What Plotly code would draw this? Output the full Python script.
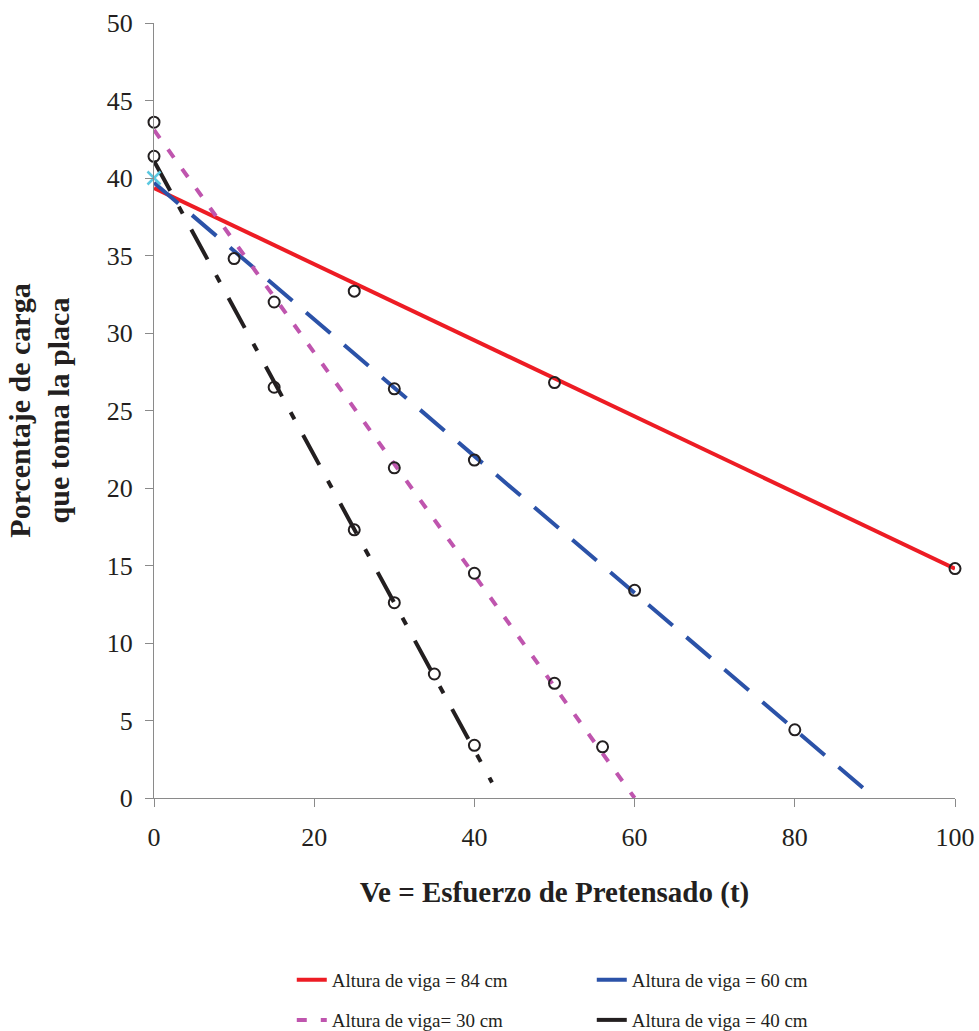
import plotly.graph_objects as go

# ---- data ----
# Measured points (open circles)
x_84 = [25, 50, 100]
y_84 = [32.7, 26.8, 14.8]

x_60 = [10, 30, 40, 60, 80]
y_60 = [34.8, 26.4, 21.8, 13.4, 4.4]

x_30 = [0, 15, 30, 40, 50, 56]
y_30 = [43.6, 32.0, 21.3, 14.5, 7.4, 3.3]

x_40 = [0, 15, 25, 30, 35, 40]
y_40 = [41.4, 26.5, 17.3, 12.6, 8.0, 3.4]

# Trend-line end points
tx_84 = [0, 100]
ty_84 = [39.35, 14.8]
tx_60 = [0, 90]
ty_60 = [39.7, 0]
tx_30 = [0, 60]
ty_30 = [43.1, 0]
tx_40 = [0, 42.2]
ty_40 = [41.1, 1.0]

# common origin point (cyan cross)
x_origin = [0]
y_origin = [40.0]

names = ["Altura de viga = 84 cm", "Altura de viga = 60 cm",
         "Altura de viga= 30 cm", "Altura de viga = 40 cm"]

x_ticks = [0, 20, 40, 60, 80, 100]
y_ticks = [0, 5, 10, 15, 20, 25, 30, 35, 40, 45, 50]

RED = "#ED1C24"
BLUE = "#2B52A8"
MAG = "#BF55AE"
BLK = "#231F20"
CYAN = "#5BC8E0"
FONT = "Liberation Serif"

fig = go.Figure()

fig.add_trace(go.Scatter(x=tx_84, y=ty_84, mode="lines", name=names[0],
                         line=dict(color=RED, width=4), legend="legend"))
fig.add_trace(go.Scatter(x=tx_60, y=ty_60, mode="lines", name=names[1],
                         line=dict(color=BLUE, width=4, dash="32px,18px"), legend="legend"))
fig.add_trace(go.Scatter(x=tx_30, y=ty_30, mode="lines", name=names[2],
                         line=dict(color=MAG, width=4, dash="10px,14px"), legend="legend2"))
fig.add_trace(go.Scatter(x=tx_40, y=ty_40, mode="lines", name=names[3],
                         line=dict(color=BLK, width=4, dash="34px,18px,8px,18px"), legend="legend2"))

for xs, ys in [(x_84, y_84), (x_60, y_60), (x_30, y_30), (x_40, y_40)]:
    fig.add_trace(go.Scatter(x=xs, y=ys, mode="markers", showlegend=False,
                             cliponaxis=False,
                             marker=dict(symbol="circle-open", size=11, color=BLK,
                                         line=dict(width=2, color=BLK))))

fig.add_trace(go.Scatter(x=x_origin, y=y_origin, mode="markers", showlegend=False,
                         cliponaxis=False,
                         marker=dict(symbol="x-thin", size=13,
                                     line=dict(width=2.5, color=CYAN))))

axis_common = dict(showline=True, linecolor="#8a8a8a", linewidth=1, ticks="outside",
                   ticklen=8, tickcolor="#8a8a8a", showgrid=False, zeroline=False,
                   tickfont=dict(family=FONT, size=26, color=BLK))

fig.update_xaxes(range=[0, 100], tickvals=x_ticks, ticklabelstandoff=8, **axis_common,
                 title=dict(text="<b>Ve = Esfuerzo de Pretensado (t)</b>",
                            font=dict(family=FONT, size=29, color=BLK), standoff=30))
fig.update_yaxes(range=[0, 50], tickvals=y_ticks, ticklabelstandoff=7, **axis_common,
                 title=dict(text="<b>Porcentaje de carga<br>que toma la placa</b>",
                            font=dict(family=FONT, size=30, color=BLK), standoff=28))

leg_common = dict(orientation="h", entrywidth=255, entrywidthmode="pixels",
                  xanchor="left", yanchor="middle", x=0.172,
                  font=dict(family=FONT, size=19, color=BLK),
                  bgcolor="rgba(0,0,0,0)")

fig.update_layout(
    width=979, height=1031,
    margin=dict(l=154, r=24, t=23, b=233, autoexpand=False),
    plot_bgcolor="white", paper_bgcolor="white",
    legend=dict(y=-0.2348, **leg_common),
    legend2=dict(y=-0.2865, **leg_common),
)

fig.write_html("out.html")
